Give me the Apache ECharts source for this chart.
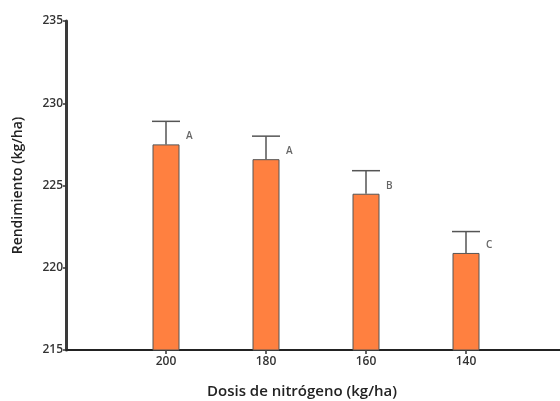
<!DOCTYPE html>
<html>
<head>
<meta charset="utf-8">
<script src="https://cdn.jsdelivr.net/npm/echarts@6/dist/echarts.min.js"></script>
<style>html,body{margin:0;padding:0;background:#fff}#c{width:560px;height:401px}</style>
</head>
<body>
<div id="c"></div>
<script>
const doses = ['200', '180', '160', '140'];
const means = [227.5, 226.6, 224.5, 220.9];
const upper = [228.9, 228.0, 225.9, 222.2];
const letters = ['A', 'A', 'B', 'C'];
const yTicks = [215, 220, 225, 230, 235];

const xCats = [''].concat(doses, ['']);
const chart = echarts.init(document.getElementById('c'), null, {renderer: 'canvas'});
const FONT = 'Open Sans';
chart.setOption({
  animation: false,
  grid: {left: 66, width: 500, top: 21, bottom: 51, outerBoundsMode: 'none', containLabel: false},
  xAxis: {
    type: 'category', data: xCats, boundaryGap: false,
    name: 'Dosis de nitrógeno (kg/ha)', nameLocation: 'middle', nameGap: 34,
    nameTextStyle: {fontFamily: FONT, fontSize: 15, fontWeight: 600, color: '#222', padding: [0, 28, 0, 0]},
    axisLine: {lineStyle: {color: '#222', width: 2}},
    axisTick: {length: 4, lineStyle: {color: '#333', width: 1.5}, interval: (i, v) => v !== ''},
    axisLabel: {fontFamily: FONT, fontSize: 12, fontWeight: 600, color: '#333', margin: 6, interval: 0},
    splitLine: {show: false}
  },
  yAxis: {
    type: 'value', min: yTicks[0], max: yTicks[yTicks.length - 1], interval: 5,
    name: 'Rendimiento (kg/ha)', nameLocation: 'middle', nameGap: 41,
    nameTextStyle: {fontFamily: FONT, fontSize: 14, fontWeight: 600, color: '#222'},
    axisLine: {show: true, lineStyle: {color: '#3a3a3a', width: 3}},
    axisTick: {show: true, length: 3, lineStyle: {color: '#333', width: 1.5}},
    axisLabel: {fontFamily: FONT, fontSize: 12, fontWeight: 600, color: '#333', margin: 3},
    splitLine: {show: false}
  },
  series: [
    {
      type: 'bar', barWidth: 27,
      data: means.map((v, i) => [doses[i], v]),
      itemStyle: {color: '#FF8040', borderColor: '#555', borderWidth: 1},
      z: 2
    },
    {
      type: 'custom',
      data: means.map((v, i) => [doses[i], v, upper[i], letters[i]]),
      renderItem: function (params, api) {
        const x = api.value(0);
        const top = api.coord([x, api.value(1)]);
        const hi = api.coord([x, api.value(2)]);
        const half = 14;
        return {
          type: 'group',
          children: [
            {type: 'line', shape: {x1: top[0], y1: top[1], x2: hi[0], y2: hi[1]}, style: {stroke: '#555', lineWidth: 1.5}},
            {type: 'line', shape: {x1: hi[0] - half, y1: hi[1], x2: hi[0] + half, y2: hi[1]}, style: {stroke: '#555', lineWidth: 1.5}},
            {type: 'text', x: top[0] + half + 6, y: top[1] - 8,
             style: {text: letters[params.dataIndex], fill: '#666', font: '600 10px "Open Sans"', align: 'left', verticalAlign: 'middle'}}
          ]
        };
      },
      z: 3
    }
  ]
});
</script>
</body>
</html>
